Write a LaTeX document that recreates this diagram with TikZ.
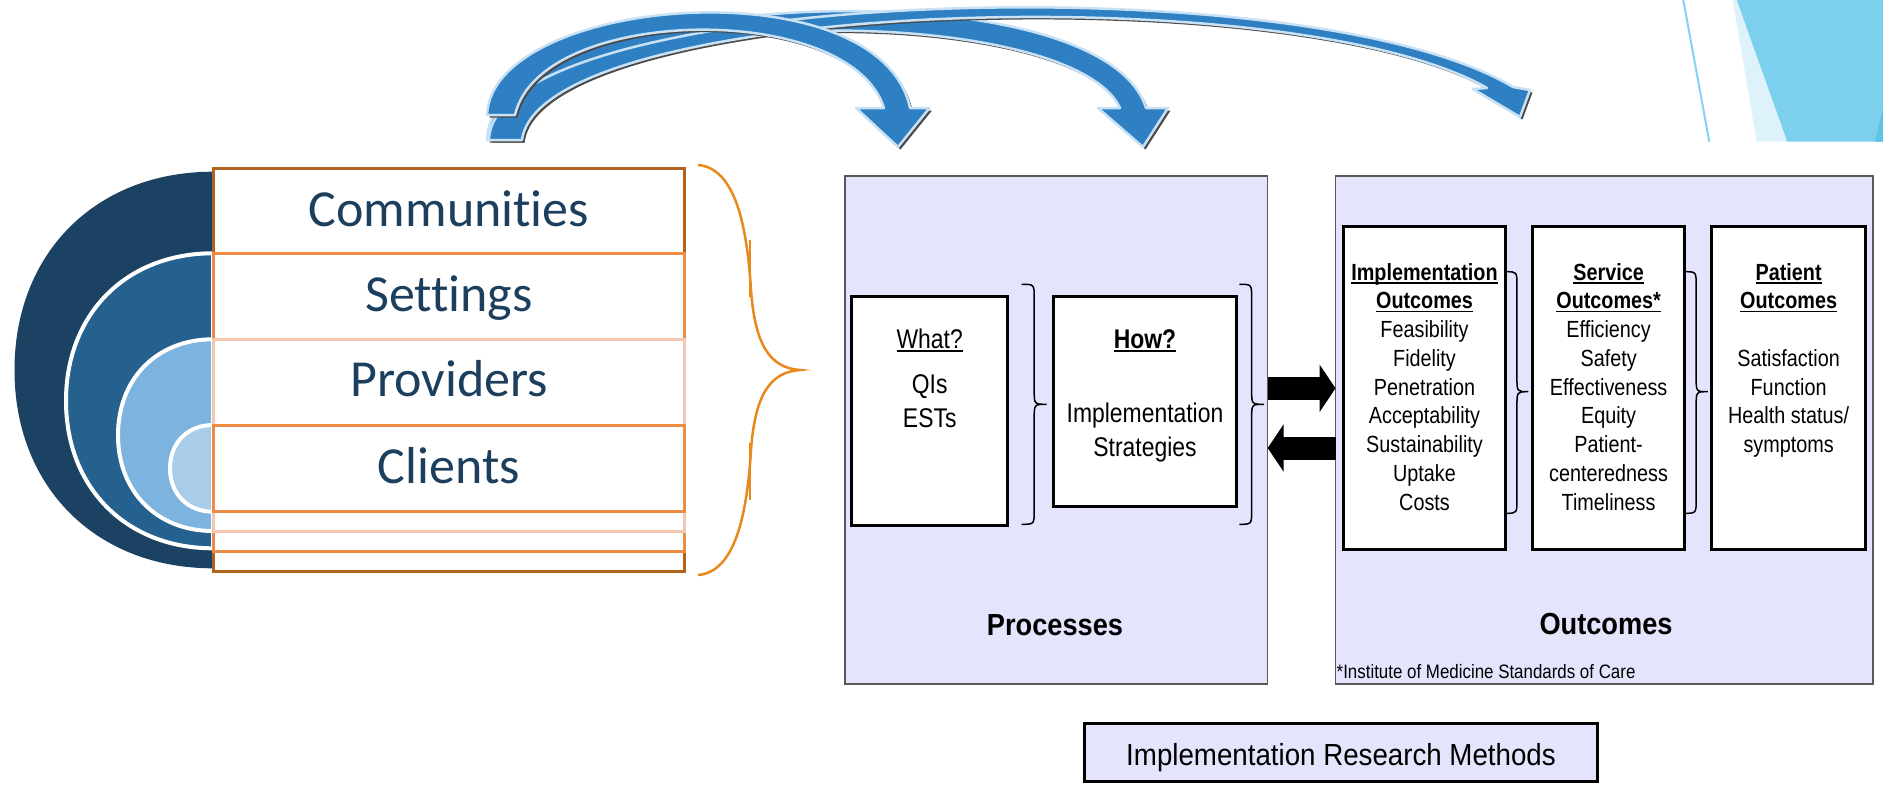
\documentclass[tikz,border=0pt]{standalone}
\usepackage{fontspec}
\usepackage{graphicx}
\setmainfont{Liberation Sans}
\newfontfamily\calib[Ligatures={NoCommon,NoContextual}]{Carlito}
\usetikzlibrary{arrows.meta}

\definecolor{navy}{HTML}{1B4262}
\definecolor{midblue}{HTML}{24618F}
\definecolor{ltblue}{HTML}{7DB3DF}
\definecolor{palblue}{HTML}{A9CDE9}
\definecolor{txtnavy}{HTML}{1C3F5E}
\definecolor{brownor}{HTML}{B2631C}
\definecolor{orng}{HTML}{EE8B45}
\definecolor{peach}{HTML}{F4C8B0}
\definecolor{braceor}{HTML}{E8891E}
\definecolor{lav}{HTML}{E4E4FC}
\definecolor{arrblue}{HTML}{2E80C3}
\definecolor{arrlight}{HTML}{C8E1F4}
\definecolor{arrshadow}{HTML}{4A4A4A}
\definecolor{decoline}{HTML}{80D3F2}
\definecolor{decopale}{HTML}{DDF2FA}
\definecolor{decocyan}{HTML}{7CD0EE}
\definecolor{decodark}{HTML}{5CC3E9}

\newcommand\vst[2][1.18]{\scalebox{1}[#1]{\begin{tabular}[t]{@{}c@{}}#2\end{tabular}}}
\newcommand\uln[1]{\begingroup\setbox0=\hbox{#1}\rlap{\rule[-0.15em]{\wd0}{0.07em}}\box0\endgroup}

\newcommand\halfdisc[4]{%
  \pgfmathsetmacro\hdcy{(#3+#4)/2}%
  \pgfmathsetmacro\hdcx{213-0.59*(213-#2)}%
  \pgfmathsetmacro\hdup{\hdcy-0.59*(#4-#3)/2}%
  \pgfmathsetmacro\hddn{\hdcy+0.59*(#4-#3)/2}%
  \filldraw[#1] (213,#3) .. controls (\hdcx,#3) and (#2,\hdup) .. (#2,\hdcy) .. controls (#2,\hddn) and (\hdcx,#4) .. (213,#4) -- cycle;}

\newcommand\curly[5]{%
  \pgfmathsetmacro\cmx{(#1+#2)/2}%
  \draw[bracepen] (#1,#3) .. controls (\cmx,#3) and (\cmx,#3) .. (\cmx,#3+14) -- (\cmx,#4-14) .. controls (\cmx,#4) and (\cmx,#4) .. (#2,#4) .. controls (\cmx,#4) and (\cmx,#4) .. (\cmx,#4+14) -- (\cmx,#5-14) .. controls (\cmx,#5) and (\cmx,#5) .. (#1,#5);}

\newcommand\barrow[1]{%
  \fill[arrshadow, shift={(2.5,2.5)}] #1;
  \filldraw[fill=arrblue, draw=arrlight, line width=2.5, line join=round] #1;}

\tikzset{
  panel/.style={draw=black!65, line width=1.3, fill=lav, inner sep=0, outer sep=0},
  wbox/.style={draw=black, line width=3, fill=white, inner sep=0, outer sep=0},
  ptxt/.style={inner sep=0, font=\fontsize{22.9}{29}\selectfont},
  otxt/.style={inner sep=0, font=\fontsize{19.8}{24.4}\selectfont},
  bigtxt/.style={inner sep=0, font=\fontsize{27.2}{30}\selectfont\bfseries},
  rowtxt/.style={inner sep=0, text=txtnavy, font=\calib\fontsize{52}{60}\selectfont},
  bracepen/.style={draw=black, line width=1.5},
  blk/.style={line width=23, -{Triangle[length=16pt,width=47pt]}},
}

\begin{document}
\begin{tikzpicture}[x=1pt, y=-1pt]
\useasboundingbox (0,0) rectangle (1883,801);

% top-right decoration
\draw[decoline, line width=2] (1683.3,0) -- (1709.3,141.7);
\fill[decopale] (1732.7,0) -- (1756.7,141.7) -- (1787.3,141.7) -- (1736.7,0) -- cycle;
\fill[decocyan] (1736.7,0) -- (1787.3,141.7) -- (1883,141.7) -- (1883,0) -- cycle;
\fill[decodark] (1883,108) -- (1875,141.7) -- (1883,141.7) -- cycle;

% nested half discs
\halfdisc{fill=navy,draw=none}{14.5}{171.7}{568.3}
\halfdisc{fill=midblue,draw=white,line width=4}{66}{253.3}{548.3}
\halfdisc{fill=ltblue,draw=white,line width=4}{118}{339.3}{531}
\halfdisc{fill=palblue,draw=white,line width=4}{170}{425}{511.7}

% nested rectangles
\draw[brownor, line width=3, fill=white] (213,168.3) rectangle (684,571.7);
\draw[orng, line width=3] (213,253.3) rectangle (684,551.5);
\draw[peach, line width=3] (213,339.3) rectangle (684,531);
\draw[orng, line width=3] (213,425) rectangle (684,511);

\node[rowtxt, anchor=base] (comm) at (449,226.7) {Communities};
\node[rowtxt, anchor=base] (sett) at (449,311.7) {Settings};
\node[rowtxt, anchor=base] (prov) at (449,396.7) {Providers};
\node[rowtxt, anchor=base] (clie) at (449,483.3) {Clients};

% orange brace
\draw[braceor, line width=2.5] (698,165) .. controls (735,168) and (747,225) .. (751,290) .. controls (755,345) and (770,368) .. (800,370) .. controls (770,372) and (755,395) .. (751,450) .. controls (747,515) and (735,572) .. (698,575);
\draw[braceor, line width=2] (749.5,240) -- (749.5,297);
\draw[braceor, line width=2] (749.5,443) -- (749.5,500);

% curved blue arrows
\barrow{(487,140) .. controls (490,-10) and (1100,-40) .. (1146,108) -- (1168,108) -- (1143,147) -- (1098,108) -- (1120,108) .. controls (1070,0) and (540,0) .. (522,140) -- cycle}
\barrow{(489,140) .. controls (492,-10) and (1300,-40) .. (1513,87) -- (1530,90) -- (1520,117) -- (1473,89) -- (1487,88) .. controls (1290,-25) and (540,0) .. (522,140) -- cycle}
\barrow{(487,115) .. controls (492,-5) and (880,-35) .. (910,108) -- (929.5,108) -- (898,147) -- (856,108) -- (884,108) .. controls (850,0) and (540,5) .. (515,115) -- cycle}

% panels
\node[panel, minimum width=422.7, minimum height=508] (proc) at (1056.35,430) {};
\node[panel, minimum width=537.5, minimum height=508] (outc) at (1604.25,430) {};

% process boxes
\node[wbox, minimum width=156, minimum height=229.3] (what) at (929.7,410.7) {};
\node[wbox, minimum width=182.7, minimum height=210] (how) at (1144.65,401) {};
\node[ptxt, anchor=base] (whattxt) at (929.7,348.3) {\vst{\uln{What?}\\[9.2pt] QIs\\ ESTs}};
\node[ptxt, anchor=base] (howtxt) at (1145,348.3) {\vst{\uln{\textbf{How?}}\\[34pt] Implementation\\ Strategies}};
\curly{1021.7}{1046.7}{284.3}{404.3}{524.3}
\curly{1239.3}{1264}{284.3}{404.3}{524.3}

% outcome boxes
\node[wbox, minimum width=162.3, minimum height=323.3] (impl) at (1424.45,387.65) {};
\node[wbox, minimum width=151.9, minimum height=323.3] (serv) at (1608.55,387.65) {};
\node[wbox, minimum width=153.6, minimum height=323.3] (pat) at (1788.2,387.65) {};
\node[otxt, anchor=base] (impltxt) at (1424.5,280) {\vst{\uln{\textbf{Implementation}}\\ \uln{\textbf{Outcomes}}\\ Feasibility\\ Fidelity\\ Penetration\\ Acceptability\\ Sustainability\\ Uptake\\ Costs}};
\node[otxt, anchor=base] (servtxt) at (1608.6,280) {\vst{\uln{\textbf{Service}}\\ \uln{\textbf{Outcomes*}}\\ Efficiency\\ Safety\\ Effectiveness\\ Equity\\ Patient-\\ centeredness\\ Timeliness}};
\node[otxt, anchor=base] (pattxt) at (1788.6,280) {\vst{\uln{\textbf{Patient}}\\ \uln{\textbf{Outcomes}}\\ ~\\ Satisfaction\\ Function\\ Health status/\\ symptoms}};
\curly{1505.6}{1528.3}{271.7}{391.7}{513.3}
\curly{1684.5}{1707.8}{271.7}{391.7}{513.3}

% black arrows between panels
\draw[blk] (proc.east |- 0,388.3) -- (outc.west |- 0,388.3);
\draw[blk] (outc.west |- 0,448) -- (proc.east |- 0,448);

% panel labels
\node[bigtxt, anchor=base] (proclbl) at (1055,635) {\scalebox{1}[1.12]{Processes}};
\node[bigtxt, anchor=base] (outclbl) at (1606,634.3) {\scalebox{1}[1.12]{Outcomes}};
\node[inner sep=0, anchor=base west, font=\fontsize{16.9}{20}\selectfont] (note) at (1336.5,678.3) {\scalebox{1}[1.15]{*Institute of Medicine Standards of Care}};

% bottom box
\node[draw=black, line width=3, fill=lav, minimum width=513, minimum height=58.4, inner sep=0] (irm) at (1341,752.5) {};
\node[inner sep=0, anchor=base, font=\fontsize{27.7}{30}\selectfont] (irmtxt) at (1341,765) {\scalebox{1}[1.1]{Implementation Research Methods}};
\end{tikzpicture}
\end{document}
